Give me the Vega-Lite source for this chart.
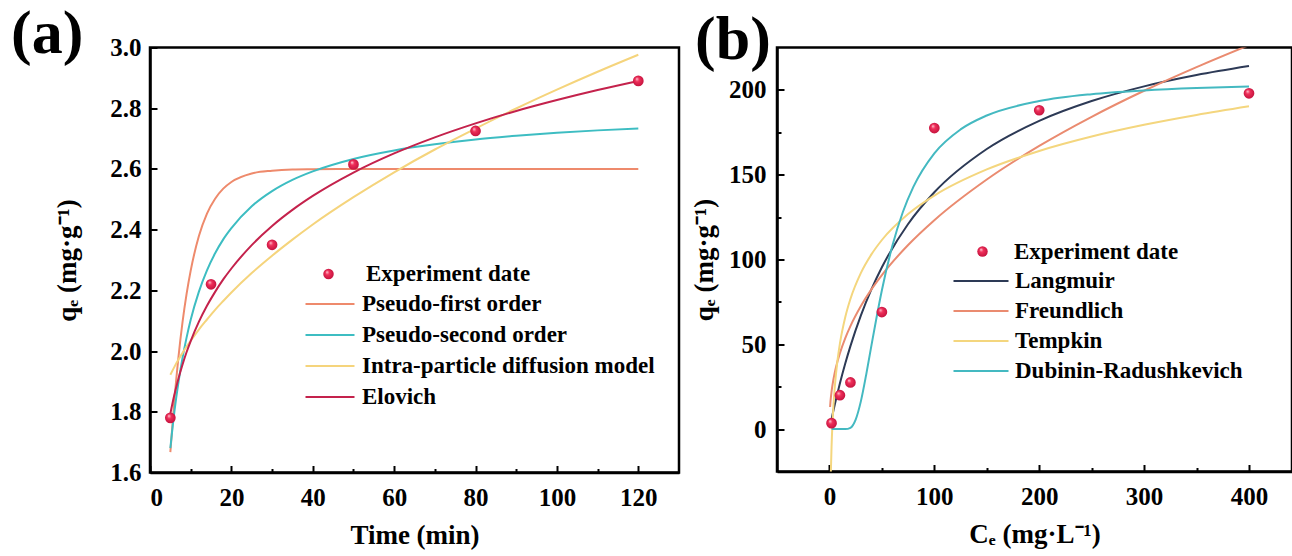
{
  "$schema": "https://vega.github.io/schema/vega-lite/v6.json",
  "background": "white",
  "padding": {"left": 9, "top": 1.5, "right": 0, "bottom": 0},
  "bounds": "flush",
  "spacing": 98,
  "config": {
    "font": "Liberation Serif",
    "view": {"stroke": "black", "strokeWidth": 2.5},
    "axis": {
      "domainColor": "black", "domainWidth": 2.5, "tickColor": "black", "tickWidth": 2,
      "labelFont": "Liberation Serif", "labelFontWeight": "bold", "labelFontSize": 25, "labelColor": "black",
      "titleFont": "Liberation Serif", "titleFontWeight": "bold", "titleFontSize": 27, "titleColor": "black",
      "grid": false
    },
    "legend": {"labelFont": "Liberation Serif", "labelFontWeight": "bold", "labelFontSize": 23, "labelColor": "black", "padding": 0, "labelLimit": 0},
    "title": {"font": "Liberation Serif", "fontWeight": "bold", "fontSize": 62, "color": "black"}
  },
  "datasets": {
    "a_pts": [
      {"t": 5, "q": 1.78}, {"t": 15, "q": 2.22}, {"t": 30, "q": 2.35},
      {"t": 50, "q": 2.615}, {"t": 80, "q": 2.725}, {"t": 120, "q": 2.89}
    ],
    "a_lines": [
      {"m": "Pseudo-first order", "t": 5, "q": 1.667}, {"m": "Pseudo-first order", "t": 6, "q": 1.840}, {"m": "Pseudo-first order", "t": 7, "q": 1.981}, {"m": "Pseudo-first order", "t": 8, "q": 2.096}, {"m": "Pseudo-first order", "t": 9, "q": 2.189}, {"m": "Pseudo-first order", "t": 10, "q": 2.265}, {"m": "Pseudo-first order", "t": 12, "q": 2.378}, {"m": "Pseudo-first order", "t": 14, "q": 2.453}, {"m": "Pseudo-first order", "t": 16, "q": 2.502}, {"m": "Pseudo-first order", "t": 18, "q": 2.535}, {"m": "Pseudo-first order", "t": 20, "q": 2.557}, {"m": "Pseudo-first order", "t": 25, "q": 2.585}, {"m": "Pseudo-first order", "t": 30, "q": 2.594}, {"m": "Pseudo-first order", "t": 35, "q": 2.598}, {"m": "Pseudo-first order", "t": 40, "q": 2.599}, {"m": "Pseudo-first order", "t": 50, "q": 2.6}, {"m": "Pseudo-first order", "t": 60, "q": 2.6}, {"m": "Pseudo-first order", "t": 70, "q": 2.6}, {"m": "Pseudo-first order", "t": 80, "q": 2.6}, {"m": "Pseudo-first order", "t": 90, "q": 2.6}, {"m": "Pseudo-first order", "t": 100, "q": 2.6}, {"m": "Pseudo-first order", "t": 110, "q": 2.6}, {"m": "Pseudo-first order", "t": 120, "q": 2.6},
      {"m": "Pseudo-second order", "t": 5, "q": 1.680}, {"m": "Pseudo-second order", "t": 6, "q": 1.801}, {"m": "Pseudo-second order", "t": 7, "q": 1.898}, {"m": "Pseudo-second order", "t": 8, "q": 1.978}, {"m": "Pseudo-second order", "t": 9, "q": 2.045}, {"m": "Pseudo-second order", "t": 10, "q": 2.103}, {"m": "Pseudo-second order", "t": 12, "q": 2.195}, {"m": "Pseudo-second order", "t": 14, "q": 2.266}, {"m": "Pseudo-second order", "t": 16, "q": 2.322}, {"m": "Pseudo-second order", "t": 18, "q": 2.368}, {"m": "Pseudo-second order", "t": 20, "q": 2.405}, {"m": "Pseudo-second order", "t": 25, "q": 2.477}, {"m": "Pseudo-second order", "t": 30, "q": 2.527}, {"m": "Pseudo-second order", "t": 35, "q": 2.564}, {"m": "Pseudo-second order", "t": 40, "q": 2.592}, {"m": "Pseudo-second order", "t": 50, "q": 2.633}, {"m": "Pseudo-second order", "t": 60, "q": 2.661}, {"m": "Pseudo-second order", "t": 70, "q": 2.681}, {"m": "Pseudo-second order", "t": 80, "q": 2.697}, {"m": "Pseudo-second order", "t": 90, "q": 2.709}, {"m": "Pseudo-second order", "t": 100, "q": 2.719}, {"m": "Pseudo-second order", "t": 110, "q": 2.727}, {"m": "Pseudo-second order", "t": 120, "q": 2.733},
      {"m": "Intra-particle diffusion model", "t": 5, "q": 1.922}, {"m": "Intra-particle diffusion model", "t": 6, "q": 1.948}, {"m": "Intra-particle diffusion model", "t": 7, "q": 1.972}, {"m": "Intra-particle diffusion model", "t": 8, "q": 1.994}, {"m": "Intra-particle diffusion model", "t": 9, "q": 2.015}, {"m": "Intra-particle diffusion model", "t": 10, "q": 2.034}, {"m": "Intra-particle diffusion model", "t": 12, "q": 2.071}, {"m": "Intra-particle diffusion model", "t": 14, "q": 2.104}, {"m": "Intra-particle diffusion model", "t": 16, "q": 2.136}, {"m": "Intra-particle diffusion model", "t": 18, "q": 2.165}, {"m": "Intra-particle diffusion model", "t": 20, "q": 2.193}, {"m": "Intra-particle diffusion model", "t": 25, "q": 2.257}, {"m": "Intra-particle diffusion model", "t": 30, "q": 2.314}, {"m": "Intra-particle diffusion model", "t": 35, "q": 2.367}, {"m": "Intra-particle diffusion model", "t": 40, "q": 2.417}, {"m": "Intra-particle diffusion model", "t": 50, "q": 2.507}, {"m": "Intra-particle diffusion model", "t": 60, "q": 2.589}, {"m": "Intra-particle diffusion model", "t": 70, "q": 2.664}, {"m": "Intra-particle diffusion model", "t": 80, "q": 2.733}, {"m": "Intra-particle diffusion model", "t": 90, "q": 2.799}, {"m": "Intra-particle diffusion model", "t": 100, "q": 2.861}, {"m": "Intra-particle diffusion model", "t": 110, "q": 2.920}, {"m": "Intra-particle diffusion model", "t": 120, "q": 2.976},
      {"m": "Elovich", "t": 5, "q": 1.794}, {"m": "Elovich", "t": 6, "q": 1.857}, {"m": "Elovich", "t": 7, "q": 1.910}, {"m": "Elovich", "t": 8, "q": 1.956}, {"m": "Elovich", "t": 9, "q": 1.997}, {"m": "Elovich", "t": 10, "q": 2.033}, {"m": "Elovich", "t": 12, "q": 2.096}, {"m": "Elovich", "t": 14, "q": 2.149}, {"m": "Elovich", "t": 16, "q": 2.195}, {"m": "Elovich", "t": 18, "q": 2.236}, {"m": "Elovich", "t": 20, "q": 2.272}, {"m": "Elovich", "t": 25, "q": 2.349}, {"m": "Elovich", "t": 30, "q": 2.412}, {"m": "Elovich", "t": 35, "q": 2.465}, {"m": "Elovich", "t": 40, "q": 2.511}, {"m": "Elovich", "t": 50, "q": 2.588}, {"m": "Elovich", "t": 60, "q": 2.651}, {"m": "Elovich", "t": 70, "q": 2.704}, {"m": "Elovich", "t": 80, "q": 2.750}, {"m": "Elovich", "t": 90, "q": 2.791}, {"m": "Elovich", "t": 100, "q": 2.827}, {"m": "Elovich", "t": 110, "q": 2.860}, {"m": "Elovich", "t": 120, "q": 2.890}
    ],
    "b_pts": [
      {"c": 2, "q": 3.5}, {"c": 10, "q": 20}, {"c": 20, "q": 27.5}, {"c": 50, "q": 69},
      {"c": 100, "q": 177.5}, {"c": 200, "q": 188}, {"c": 400, "q": 198}
    ],
    "b_lines": [
      {"m": "Langmuir", "c": 1, "q": 2.98}, {"m": "Langmuir", "c": 2, "q": 5.89}, {"m": "Langmuir", "c": 3, "q": 8.73}, {"m": "Langmuir", "c": 5, "q": 14.24}, {"m": "Langmuir", "c": 7.5, "q": 20.78}, {"m": "Langmuir", "c": 10, "q": 26.99}, {"m": "Langmuir", "c": 15, "q": 38.49}, {"m": "Langmuir", "c": 20, "q": 48.92}, {"m": "Langmuir", "c": 30, "q": 67.07}, {"m": "Langmuir", "c": 40, "q": 82.35}, {"m": "Langmuir", "c": 50, "q": 95.40}, {"m": "Langmuir", "c": 75, "q": 120.94}, {"m": "Langmuir", "c": 100, "q": 139.62}, {"m": "Langmuir", "c": 150, "q": 165.14}, {"m": "Langmuir", "c": 200, "q": 181.75}, {"m": "Langmuir", "c": 250, "q": 193.43}, {"m": "Langmuir", "c": 300, "q": 202.08}, {"m": "Langmuir", "c": 350, "q": 208.75}, {"m": "Langmuir", "c": 400, "q": 214.05},
      {"m": "Freundlich", "c": 0.6, "q": 13.0}, {"m": "Freundlich", "c": 1, "q": 16.31}, {"m": "Freundlich", "c": 2, "q": 22.11}, {"m": "Freundlich", "c": 3, "q": 26.42}, {"m": "Freundlich", "c": 5, "q": 33.06}, {"m": "Freundlich", "c": 7.5, "q": 39.50}, {"m": "Freundlich", "c": 10, "q": 44.82}, {"m": "Freundlich", "c": 15, "q": 53.55}, {"m": "Freundlich", "c": 20, "q": 60.76}, {"m": "Freundlich", "c": 30, "q": 72.60}, {"m": "Freundlich", "c": 40, "q": 82.37}, {"m": "Freundlich", "c": 50, "q": 90.85}, {"m": "Freundlich", "c": 75, "q": 108.54}, {"m": "Freundlich", "c": 100, "q": 123.16}, {"m": "Freundlich", "c": 150, "q": 147.15}, {"m": "Freundlich", "c": 200, "q": 166.97}, {"m": "Freundlich", "c": 250, "q": 184.14}, {"m": "Freundlich", "c": 300, "q": 199.49}, {"m": "Freundlich", "c": 350, "q": 213.43}, {"m": "Freundlich", "c": 400, "q": 226.35},
      {"m": "Tempkin", "c": 1.35, "q": -25.4}, {"m": "Tempkin", "c": 2, "q": -10.5}, {"m": "Tempkin", "c": 3, "q": 4.8}, {"m": "Tempkin", "c": 5, "q": 24.2}, {"m": "Tempkin", "c": 7.5, "q": 39.6}, {"m": "Tempkin", "c": 10, "q": 50.5}, {"m": "Tempkin", "c": 15, "q": 65.8}, {"m": "Tempkin", "c": 20, "q": 76.7}, {"m": "Tempkin", "c": 30, "q": 92.1}, {"m": "Tempkin", "c": 40, "q": 103.0}, {"m": "Tempkin", "c": 50, "q": 111.5}, {"m": "Tempkin", "c": 75, "q": 126.8}, {"m": "Tempkin", "c": 100, "q": 137.7}, {"m": "Tempkin", "c": 150, "q": 153.1}, {"m": "Tempkin", "c": 200, "q": 164.0}, {"m": "Tempkin", "c": 250, "q": 172.5}, {"m": "Tempkin", "c": 300, "q": 179.4}, {"m": "Tempkin", "c": 350, "q": 185.2}, {"m": "Tempkin", "c": 400, "q": 190.3},
      {"m": "Dubinin-Radushkevich", "c": 2, "q": 0}, {"m": "Dubinin-Radushkevich", "c": 5, "q": 0}, {"m": "Dubinin-Radushkevich", "c": 10, "q": 0}, {"m": "Dubinin-Radushkevich", "c": 15, "q": 0.01}, {"m": "Dubinin-Radushkevich", "c": 20, "q": 0.78}, {"m": "Dubinin-Radushkevich", "c": 25, "q": 5.6}, {"m": "Dubinin-Radushkevich", "c": 30, "q": 16.5}, {"m": "Dubinin-Radushkevich", "c": 35, "q": 32.0}, {"m": "Dubinin-Radushkevich", "c": 40, "q": 49.2}, {"m": "Dubinin-Radushkevich", "c": 45, "q": 66.1}, {"m": "Dubinin-Radushkevich", "c": 50, "q": 81.9}, {"m": "Dubinin-Radushkevich", "c": 60, "q": 108.1}, {"m": "Dubinin-Radushkevich", "c": 70, "q": 128.0}, {"m": "Dubinin-Radushkevich", "c": 80, "q": 142.8}, {"m": "Dubinin-Radushkevich", "c": 100, "q": 162.6}, {"m": "Dubinin-Radushkevich", "c": 125, "q": 176.7}, {"m": "Dubinin-Radushkevich", "c": 150, "q": 184.9}, {"m": "Dubinin-Radushkevich", "c": 200, "q": 193.4}, {"m": "Dubinin-Radushkevich", "c": 250, "q": 197.5}, {"m": "Dubinin-Radushkevich", "c": 300, "q": 199.7}, {"m": "Dubinin-Radushkevich", "c": 350, "q": 201.1}, {"m": "Dubinin-Radushkevich", "c": 400, "q": 202.0}
    ]
  },
  "hconcat": [
    {
      "width": 529,
      "height": 425,
      "title": {"text": "(a)", "anchor": "start", "frame": "group", "orient": "top", "baseline": "alphabetic", "offset": 0, "dx": -139, "dy": 79.5},
      "layer": [
        {
          "data": {"name": "a_lines"},
          "mark": {"type": "line", "strokeWidth": 2, "interpolate": "monotone", "clip": true},
          "encoding": {
            "x": {
              "field": "t", "type": "quantitative",
              "scale": {"domain": [0, 130], "nice": false, "zero": false},
              "axis": {
                "title": "Time (min)",
                "values": [0, 10, 20, 30, 40, 50, 60, 70, 80, 90, 100, 110, 120],
                "labelExpr": "datum.value % 20 === 0 ? datum.label : ''",
                "tickSize": {"condition": {"test": "datum.value % 20 !== 0", "value": -4}, "value": -7},
                "labelPadding": 20,
                "titlePadding": 12
              }
            },
            "y": {
              "field": "q", "type": "quantitative",
              "scale": {"domain": [1.6, 3.0], "nice": false, "zero": false},
              "axis": {
                "title": "qₑ (mg·g⁻¹)",
                "values": [1.6, 1.7, 1.8, 1.9, 2.0, 2.1, 2.2, 2.3, 2.4, 2.5, 2.6, 2.7, 2.8, 2.9, 3.0],
                "labelExpr": "round(datum.value * 10) % 2 === 1 ? '' : format(datum.value, '.1f')",
                "tickSize": {"condition": {"test": "round(datum.value * 10) % 2 === 1", "value": -4}, "value": -7},
                "labelPadding": 16,
                "titlePadding": 28
              }
            },
            "color": {
              "field": "m", "type": "nominal",
              "scale": {
                "domain": ["Pseudo-first order", "Pseudo-second order", "Intra-particle diffusion model", "Elovich"],
                "range": ["#ee8a6c", "#3dbdc2", "#f5d47c", "#c4224c"]
              },
              "legend": {
                "orient": "none", "legendX": 154.5, "legendY": 242.5, "title": null,
                "symbolType": "stroke", "symbolSize": 100, "symbolStrokeWidth": 2,
                "labelOffset": 6.5, "rowPadding": 3, "clipHeight": 28,
                "encode": {"symbols": {"update": {"size": {"value": 2400}}}}
              }
            }
          }
        },
        {
          "data": {"name": "a_pts"},
          "mark": {
            "type": "point", "filled": true, "size": 115, "opacity": 1,
            "fill": {"gradient": "radial", "x1": 0.35, "y1": 0.3, "r1": 0, "x2": 0.5, "y2": 0.5, "r2": 0.55,
              "stops": [{"offset": 0, "color": "#ffd3dc"}, {"offset": 0.35, "color": "#f0305a"}, {"offset": 1, "color": "#c0103c"}]}
          },
          "encoding": {
            "x": {"field": "t", "type": "quantitative"},
            "y": {"field": "q", "type": "quantitative"},
            "shape": {
              "datum": "Experiment date", "type": "nominal",
              "scale": {"range": ["circle"]},
              "legend": {
                "orient": "none", "legendX": 167, "legendY": 215, "title": null,
                "symbolSize": 110, "symbolFillColor": "#e8294f", "symbolStrokeWidth": 0,
                "labelOffset": 26
              }
            }
          }
        }
      ]
    },
    {
      "width": 515,
      "height": 424,
      "title": {"text": "(b)", "anchor": "start", "frame": "group", "orient": "top", "baseline": "alphabetic", "offset": 0, "dx": -82, "dy": 73},
      "layer": [
        {
          "data": {"name": "b_lines"},
          "mark": {"type": "line", "strokeWidth": 2, "interpolate": "monotone", "clip": true},
          "encoding": {
            "x": {
              "field": "c", "type": "quantitative",
              "scale": {"domain": [-50, 441], "nice": false, "zero": false},
              "axis": {
                "title": "Cₑ (mg·L⁻¹)",
                "values": [0, 50, 100, 150, 200, 250, 300, 350, 400],
                "labelExpr": "datum.value % 100 === 0 ? datum.label : ''",
                "tickSize": {"condition": {"test": "datum.value % 100 !== 0", "value": -4}, "value": -7},
                "labelPadding": 20,
                "titlePadding": 12
              }
            },
            "y": {
              "field": "q", "type": "quantitative",
              "scale": {"domain": [-25, 225], "nice": false, "zero": false},
              "axis": {
                "title": "qₑ (mg·g⁻¹)",
                "values": [0, 25, 50, 75, 100, 125, 150, 175, 200],
                "labelExpr": "datum.value % 50 === 0 ? datum.label : ''",
                "tickSize": {"condition": {"test": "datum.value % 50 !== 0", "value": -4}, "value": -7},
                "labelPadding": 18,
                "titlePadding": 10
              }
            },
            "color": {
              "field": "m", "type": "nominal",
              "scale": {
                "domain": ["Langmuir", "Freundlich", "Tempkin", "Dubinin-Radushkevich"],
                "range": ["#2d3a56", "#ea8b70", "#f4d67e", "#44b9c1"]
              },
              "legend": {
                "orient": "none", "legendX": 175.5, "legendY": 219.5, "title": null,
                "symbolType": "stroke", "symbolSize": 100, "symbolStrokeWidth": 2,
                "labelOffset": 5.5, "rowPadding": 2, "clipHeight": 28,
                "encode": {"symbols": {"update": {"size": {"value": 3025}}}}
              }
            }
          }
        },
        {
          "data": {"name": "b_pts"},
          "mark": {
            "type": "point", "filled": true, "size": 115, "opacity": 1,
            "fill": {"gradient": "radial", "x1": 0.35, "y1": 0.3, "r1": 0, "x2": 0.5, "y2": 0.5, "r2": 0.55,
              "stops": [{"offset": 0, "color": "#ffd3dc"}, {"offset": 0.35, "color": "#f0305a"}, {"offset": 1, "color": "#c0103c"}]}
          },
          "encoding": {
            "x": {"field": "c", "type": "quantitative"},
            "y": {"field": "q", "type": "quantitative"},
            "shape": {
              "datum": "Experiment date", "type": "nominal",
              "scale": {"range": ["circle"]},
              "legend": {
                "orient": "none", "legendX": 194, "legendY": 192.5, "title": null,
                "symbolSize": 110, "symbolFillColor": "#e8294f", "symbolStrokeWidth": 0,
                "labelOffset": 20
              }
            }
          }
        }
      ]
    }
  ],
  "resolve": {
    "scale": {"x": "independent", "y": "independent", "color": "independent", "shape": "independent"},
    "legend": {"color": "independent", "shape": "independent"}
  }
}
